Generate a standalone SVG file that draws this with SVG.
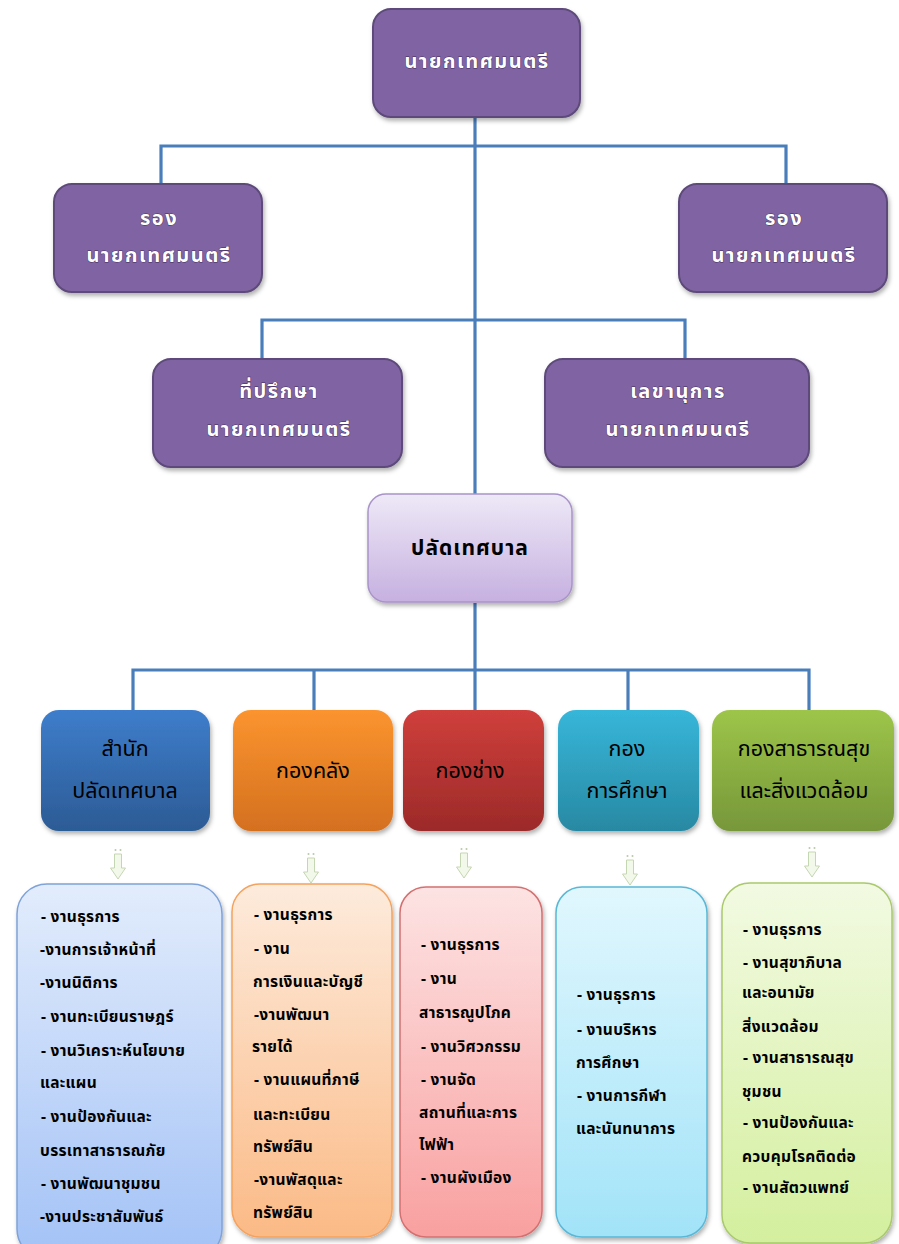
<svg xmlns="http://www.w3.org/2000/svg" width="899" height="1244" viewBox="0 0 899 1244">
<style>
.th{font-family:"Noto Sans Thai","Tahoma","DejaVu Sans","Noto Sans",sans-serif}
.pt{font-size:20px;font-weight:bold;letter-spacing:1.5px;fill:#fff;stroke:#3b2b55;stroke-width:0.8px;paint-order:stroke;text-anchor:middle}
.pk{font-size:21px;font-weight:bold;letter-spacing:1px;fill:#000;text-anchor:middle}
.dt{font-size:21.5px;fill:#000;text-anchor:middle}
.li{font-size:15.5px;font-weight:bold;letter-spacing:0.3px;fill:#000}
.pbox{fill:#8064a2;stroke:#5d4a7a;stroke-width:2}
.conn{fill:none;stroke:#4a7ebb;stroke-width:3.2}
.arr{fill:#f3f9ea;stroke:#c5d6b2;stroke-width:1}
.dot{fill:#b9c9a8}
</style>
<defs>
<filter id="sh" x="-10%" y="-10%" width="125%" height="130%">
<feDropShadow dx="1.5" dy="3" stdDeviation="2" flood-color="#000" flood-opacity="0.3"/>
</filter>
<linearGradient id="gLav" x1="0" y1="0" x2="0" y2="1"><stop offset="0" stop-color="#eee9f7"/><stop offset="1" stop-color="#c6b0e0"/></linearGradient>
<linearGradient id="gBlue" x1="0" y1="0" x2="0" y2="1"><stop offset="0" stop-color="#3e7dcb"/><stop offset="1" stop-color="#2c5b95"/></linearGradient>
<linearGradient id="gOr" x1="0" y1="0" x2="0" y2="1"><stop offset="0" stop-color="#fb942f"/><stop offset="1" stop-color="#d4701f"/></linearGradient>
<linearGradient id="gRed" x1="0" y1="0" x2="0" y2="1"><stop offset="0" stop-color="#cf3f3b"/><stop offset="1" stop-color="#9c2a29"/></linearGradient>
<linearGradient id="gCy" x1="0" y1="0" x2="0" y2="1"><stop offset="0" stop-color="#37b6d9"/><stop offset="1" stop-color="#2889a3"/></linearGradient>
<linearGradient id="gGr" x1="0" y1="0" x2="0" y2="1"><stop offset="0" stop-color="#9dc549"/><stop offset="1" stop-color="#77973a"/></linearGradient>
<linearGradient id="lBlue" x1="0" y1="0" x2="0" y2="1"><stop offset="0" stop-color="#e2ecfc"/><stop offset="1" stop-color="#a3c2f6"/></linearGradient>
<linearGradient id="lOr" x1="0" y1="0" x2="0" y2="1"><stop offset="0" stop-color="#fdebdc"/><stop offset="1" stop-color="#fbba86"/></linearGradient>
<linearGradient id="lRed" x1="0" y1="0" x2="0" y2="1"><stop offset="0" stop-color="#fde3e3"/><stop offset="1" stop-color="#f9a0a0"/></linearGradient>
<linearGradient id="lCy" x1="0" y1="0" x2="0" y2="1"><stop offset="0" stop-color="#e1f7fe"/><stop offset="1" stop-color="#a2e3f8"/></linearGradient>
<linearGradient id="lGr" x1="0" y1="0" x2="0" y2="1"><stop offset="0" stop-color="#f2fae2"/><stop offset="1" stop-color="#d4ef9e"/></linearGradient>
<g id="dnArrow">
<circle class="dot" cx="-2.5" cy="0" r="1"/>
<circle class="dot" cx="2.5" cy="0" r="1"/>
<path class="arr" d="M-3.5 4 H3.5 V18 H7.5 L0 29 L-7.5 18 H-3.5 Z"/>
</g>
</defs>

<g id="connectors">
<path class="conn" d="M475 118 V495"/>
<path class="conn" d="M161 184 V146 H786 V184"/>
<path class="conn" d="M262 359 V320 H685 V359"/>
<path class="conn" d="M475 603 V670"/>
<path class="conn" d="M133 710 V670 H809 V710"/>
<path class="conn" d="M314 670 V710"/>
<path class="conn" d="M475 670 V710"/>
<path class="conn" d="M628 670 V710"/>
<use href="#dnArrow" x="118" y="850"/>
<use href="#dnArrow" x="311" y="854"/>
<use href="#dnArrow" x="464" y="849"/>
<use href="#dnArrow" x="630" y="856"/>
<use href="#dnArrow" x="812" y="848"/>
</g>

<g id="mayor">
<rect class="pbox" x="373" y="9" width="207" height="108" rx="18" filter="url(#sh)"/>
<text class="th pt" x="477" y="68">นายกเทศมนตรี</text>
</g>
<g id="deputy-left">
<rect class="pbox" x="54" y="184" width="208" height="108" rx="18" filter="url(#sh)"/>
<text class="th pt" x="159" y="225">รอง</text>
<text class="th pt" x="159" y="262">นายกเทศมนตรี</text>
</g>
<g id="deputy-right">
<rect class="pbox" x="679" y="184" width="208" height="108" rx="18" filter="url(#sh)"/>
<text class="th pt" x="784" y="225">รอง</text>
<text class="th pt" x="784" y="262">นายกเทศมนตรี</text>
</g>
<g id="advisor">
<rect class="pbox" x="153" y="359" width="249" height="108" rx="18" filter="url(#sh)"/>
<text class="th pt" x="279" y="398">ที่ปรึกษา</text>
<text class="th pt" x="279" y="436">นายกเทศมนตรี</text>
</g>
<g id="secretary">
<rect class="pbox" x="545" y="359" width="264" height="108" rx="18" filter="url(#sh)"/>
<text class="th pt" x="678" y="398">เลขานุการ</text>
<text class="th pt" x="678" y="436">นายกเทศมนตรี</text>
</g>
<g id="clerk">
<rect x="368" y="494" width="204" height="108" rx="18" fill="url(#gLav)" stroke="#a994c9" stroke-width="1.5" filter="url(#sh)"/>
<text class="th pk" x="470" y="555">ปลัดเทศบาล</text>
</g>

<g id="dept-office">
<rect x="41" y="710" width="169" height="121" rx="18" fill="url(#gBlue)" filter="url(#sh)"/>
<text class="th dt" x="125" y="756">สำนัก</text>
<text class="th dt" x="125" y="798">ปลัดเทศบาล</text>
</g>
<g id="dept-finance">
<rect x="233" y="710" width="160" height="121" rx="18" fill="url(#gOr)" filter="url(#sh)"/>
<text class="th dt" x="313" y="778">กองคลัง</text>
</g>
<g id="dept-engineering">
<rect x="403" y="710" width="141" height="121" rx="18" fill="url(#gRed)" filter="url(#sh)"/>
<text class="th dt" x="470" y="778">กองช่าง</text>
</g>
<g id="dept-education">
<rect x="558" y="710" width="141" height="121" rx="18" fill="url(#gCy)" filter="url(#sh)"/>
<text class="th dt" x="627" y="756">กอง</text>
<text class="th dt" x="627" y="798">การศึกษา</text>
</g>
<g id="dept-health">
<rect x="712" y="710" width="182" height="121" rx="18" fill="url(#gGr)" filter="url(#sh)"/>
<text class="th dt" x="804" y="756">กองสาธารณสุข</text>
<text class="th dt" x="804" y="798">และสิ่งแวดล้อม</text>
</g>

<g id="list-office">
<rect x="17" y="884" width="205" height="375" rx="30" fill="url(#lBlue)" stroke="#7fa3d8" stroke-width="1.5" filter="url(#sh)"/>
<g class="th li">
<text x="41" y="922">- งานธุรการ</text>
<text x="40" y="955">-งานการเจ้าหน้าที่</text>
<text x="40" y="988">-งานนิติการ</text>
<text x="41" y="1022">- งานทะเบียนราษฎร์</text>
<text x="41" y="1056">- งานวิเคราะห์นโยบาย</text>
<text x="40" y="1088">และแผน</text>
<text x="41" y="1122">- งานป้องกันและ</text>
<text x="40" y="1156">บรรเทาสาธารณภัย</text>
<text x="41" y="1189">- งานพัฒนาชุมชน</text>
<text x="40" y="1222">-งานประชาสัมพันธ์</text>
</g>
</g>
<g id="list-finance">
<rect x="232" y="884" width="160" height="353" rx="28" fill="url(#lOr)" stroke="#f5a25e" stroke-width="1.5" filter="url(#sh)"/>
<g class="th li">
<text x="254" y="920">- งานธุรการ</text>
<text x="254" y="954">- งาน</text>
<text x="253" y="987">การเงินและบัญชี</text>
<text x="254" y="1020">-งานพัฒนา</text>
<text x="252" y="1052">รายได้</text>
<text x="254" y="1085">- งานแผนที่ภาษี</text>
<text x="253" y="1120">และทะเบียน</text>
<text x="253" y="1152">ทรัพย์สิน</text>
<text x="254" y="1185">-งานพัสดุและ</text>
<text x="253" y="1218">ทรัพย์สิน</text>
</g>
</g>
<g id="list-engineering">
<rect x="400" y="887" width="142" height="350" rx="26" fill="url(#lRed)" stroke="#d47070" stroke-width="1.5" filter="url(#sh)"/>
<g class="th li">
<text x="421" y="950">- งานธุรการ</text>
<text x="421" y="984">- งาน</text>
<text x="419" y="1018">สาธารณูปโภค</text>
<text x="421" y="1052">- งานวิศวกรรม</text>
<text x="421" y="1085">- งานจัด</text>
<text x="419" y="1118">สถานที่และการ</text>
<text x="419" y="1150">ไฟฟ้า</text>
<text x="421" y="1183">- งานผังเมือง</text>
</g>
</g>
<g id="list-education">
<rect x="556" y="887" width="151" height="350" rx="26" fill="url(#lCy)" stroke="#5ab8d6" stroke-width="1.5" filter="url(#sh)"/>
<g class="th li">
<text x="577" y="1000">- งานธุรการ</text>
<text x="577" y="1035">- งานบริหาร</text>
<text x="576" y="1068">การศึกษา</text>
<text x="577" y="1101">- งานการกีฬา</text>
<text x="576" y="1134">และนันทนาการ</text>
</g>
</g>
<g id="list-health">
<rect x="722" y="883" width="170" height="360" rx="28" fill="url(#lGr)" stroke="#a9c96c" stroke-width="1.5" filter="url(#sh)"/>
<g class="th li">
<text x="743" y="935">- งานธุรการ</text>
<text x="743" y="968">- งานสุขาภิบาล</text>
<text x="742" y="998">และอนามัย</text>
<text x="742" y="1032">สิ่งแวดล้อม</text>
<text x="743" y="1063">- งานสาธารณสุข</text>
<text x="742" y="1097">ชุมชน</text>
<text x="743" y="1128">- งานป้องกันและ</text>
<text x="742" y="1162">ควบคุมโรคติดต่อ</text>
<text x="743" y="1193">- งานสัตวแพทย์</text>
</g>
</g>
</svg>
